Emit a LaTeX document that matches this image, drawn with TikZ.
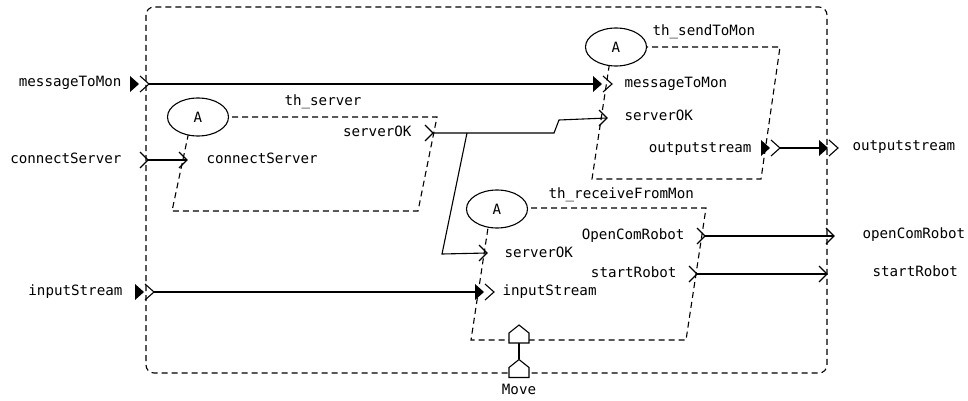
\documentclass[tikz,border=0pt]{standalone}
\usepackage{fontspec}
\setmainfont{DejaVu Sans Mono}
\usetikzlibrary{shapes.geometric}
\begin{document}
\begin{tikzpicture}[x=1pt,y=-1pt,line width=1.1pt,
  lbl/.style={font=\fontsize{14.2}{16}\selectfont,inner sep=0pt,text height=8pt,text depth=2pt},
  dsh/.style={dash pattern=on 6pt off 4pt},
  threadA/.style={ellipse,draw,solid,fill=white,minimum width=61pt,minimum height=38pt,inner sep=0pt,font=\fontsize{14.2}{16}\selectfont},
  eport/.pic={\draw[solid] (-8,-8) -- (0,0) -- (-8,8);},
  dport/.pic={\fill (-19,-8) -- (-10,0) -- (-19,8) -- cycle; \draw[solid] (-9,-8) -- (0,0) -- (-9,8);},
  house/.pic={\draw[solid,fill=white] (-10,9) -- (10,9) -- (10,-1) -- (0,-9) -- (-10,-1) -- cycle;}]
\useasboundingbox (0,0) rectangle (968,401);

% outer component
\draw[dsh,rounded corners=8pt] (146,7) rectangle (827,373);

% threads (parallelograms)
\draw[dsh] (192,117) -- (437,117) -- (418,211) -- (172,211) -- cycle;
\draw[dsh] (612,47) -- (780,47) -- (761,179) -- (592,179) -- cycle;
\draw[dsh] (491,208) -- (706,208) -- (686,340) -- (471,340) -- cycle;

\node[threadA] (aSrv) at (198,117) {A};
\node[threadA] (aSnd) at (616,47) {A};
\node[threadA] (aRcv) at (497,209) {A};

% thread names
\node[lbl] (nSrv) at (323,103) {th\_server};
\node[lbl,anchor=west] (nSnd) at (652,33) {th\_sendToMon};
\node[lbl,anchor=west] (nRcv) at (548,195) {th\_receiveFromMon};

% port labels inside threads
\node[lbl,anchor=east] (lSrvOK) at (412,133) {serverOK};
\node[lbl,anchor=west] (lSrvCS) at (206,160) {connectServer};
\node[lbl,anchor=west] (lSndMsg) at (624,85) {messageToMon};
\node[lbl,anchor=west] (lSndOK) at (624,118) {serverOK};
\node[lbl,anchor=east] (lSndOut) at (752,149) {outputstream};
\node[lbl,anchor=east] (lRcvOpen) at (685,236) {OpenComRobot};
\node[lbl,anchor=east] (lRcvStart) at (677,274) {startRobot};
\node[lbl,anchor=west] (lRcvOK) at (504,254) {serverOK};
\node[lbl,anchor=west] (lRcvIn) at (502,292) {inputStream};

% outer labels
\node[lbl,anchor=east] (oMsg) at (122,84) {messageToMon};
\node[lbl,anchor=east] (oCS) at (122,160) {connectServer};
\node[lbl,anchor=east] (oIn) at (123,292) {inputStream};
\node[lbl,anchor=west] (oOut) at (852,147) {outputstream};
\node[lbl,anchor=west] (oOpen) at (862,235) {openComRobot};
\node[lbl,anchor=west] (oStart) at (872,273) {startRobot};
\node[lbl] (oMove) at (519,391) {Move};

% port coordinates (chevron tips)
\coordinate (pMsg) at (149,84);
\coordinate (pCS) at (148,160);
\coordinate (pIn) at (154,292);
\coordinate (sMsg) at (612,84);
\coordinate (sOK) at (607,118);
\coordinate (sOut) at (780,148);
\coordinate (pOut) at (838,148);
\coordinate (vCS) at (187,160);
\coordinate (vOK) at (433,133);
\coordinate (rOK) at (487,253);
\coordinate (rIn) at (494,292);
\coordinate (rOpen) at (705,236);
\coordinate (rStart) at (697,274);
\coordinate (pOpen) at (834,236);
\coordinate (pStart) at (827,274);

% port symbols
\pic at (pMsg) {dport};
\pic at (pCS) {eport};
\pic at (pIn) {dport};
\pic at (sMsg) {dport};
\pic at (sOK) {eport};
\pic at (sOut) {dport};
\pic at (pOut) {dport};
\pic at (vCS) {eport};
\pic at (vOK) {eport};
\pic at (rOK) {eport};
\pic at (rIn) {dport};
\pic at (rOpen) {eport};
\pic at (rStart) {eport};
\pic at (pOpen) {eport};
\pic at (pStart) {eport};

% connectors
\coordinate (b1) at (554,133);
\coordinate (b2) at (559,120);
\coordinate (br) at (467,133);
\coordinate (b3) at (442,254);
\draw (pMsg) -- ([xshift=-19pt]sMsg);
\draw (pCS) -- (vCS);
\draw (pIn) -- ([xshift=-19pt]rIn);
\draw (sOut) -- ([xshift=-19pt]pOut);
\draw (vOK) -- (b1) -- (b2) -- (sOK);
\draw (br) -- (b3) -- (rOK);
\draw (rOpen) -- (pOpen);
\draw (rStart) -- (pStart);

% Move event port
\coordinate (mvA) at (519,343);
\coordinate (mvB) at (519,359);
\draw (mvA) -- (mvB);
\pic at (519,334) {house};
\pic at (519,368.5) {house};
\end{tikzpicture}
\end{document}
